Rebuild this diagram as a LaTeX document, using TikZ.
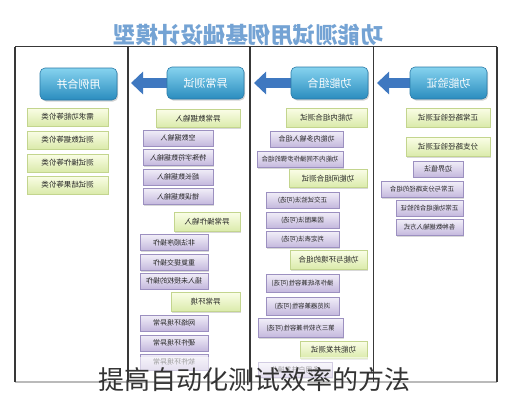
\documentclass[tikz,border=0pt]{standalone}
\usepackage{fontspec}
\usepackage{graphicx}
\newfontfamily\cjk{Noto Sans CJK SC}
\usetikzlibrary{arrows.meta,shadows}
\definecolor{hdrtop}{HTML}{86D3EF}
\definecolor{hdrbot}{HTML}{2A8CBE}
\definecolor{hdrline}{HTML}{2A7AA8}
\definecolor{gtop}{HTML}{FAFDE6}
\definecolor{gbot}{HTML}{DAEAAA}
\definecolor{gline}{HTML}{C3D58E}
\definecolor{ptop}{HTML}{F1EEF8}
\definecolor{pbot}{HTML}{C4B8DD}
\definecolor{pline}{HTML}{9C90C0}
\definecolor{arrowc}{HTML}{3F78C0}
\definecolor{titlec}{HTML}{74A3D4}
\newcommand{\mirtxt}[1]{\reflectbox{#1}}
\begin{document}
\begin{tikzpicture}[x=1pt,y=-1pt,
  hdr/.style={rounded corners=5pt, top color=hdrtop, bottom color=hdrbot, draw=hdrline, line width=0.6pt,
    minimum width=77pt, minimum height=32pt, inner sep=0pt, text=white,
    font=\cjk\fontsize{11}{12}\selectfont,
    drop shadow={shadow xshift=1.2pt,shadow yshift=-1.5pt,opacity=0.35}},
  gbox/.style={draw=gline, line width=0.5pt, top color=gtop, bottom color=gbot, inner sep=0pt,
    minimum height=18pt, font=\cjk\fontsize{7.5}{9}\selectfont, text=black!85,
    drop shadow={shadow xshift=1pt,shadow yshift=-1pt,opacity=0.3}},
  pbox/.style={gbox, draw=pline, top color=ptop, bottom color=pbot, minimum height=16pt,
    font=\cjk\fontsize{7}{8}\selectfont},
  smalltxt/.style={font=\cjk\fontsize{6.4}{7}\selectfont},
  framel/.style={draw=black!78, line width=1.5pt},
  barrow/.style={line width=10pt, draw=arrowc, -{Triangle[length=12pt,width=22pt]}},
]
\useasboundingbox (0,0) rectangle (508,400);
\fill[white] (0,0) rectangle (508,400);

% title
\node[font=\cjk\bfseries\fontsize{22.5}{24}\selectfont, text=titlec] (title) at (248,35) {\mirtxt{功能测试用例基础设计模型}};

% top frame line
\draw[framel] (15,46.7) -- (497,46.7);

% arrow tips
\coordinate (t2) at (131,83);
\coordinate (t3) at (254,83);
\coordinate (t4) at (377,83);

% header positions (for arrows drawn first)
\path (205.5,83) coordinate (h2c) (329.5,83) coordinate (h3c) (448.5,83) coordinate (h4c);
\coordinate (h2w) at (167,83);
\coordinate (h3w) at (291,83);
\coordinate (h4w) at (410,83);
\draw[barrow] (h2w) -- (t2);
\draw[barrow] (h3w) -- (t3);
\draw[barrow] (h4w) -- (t4);

% headers
\node[hdr] (h1) at (78.5,84) {\mirtxt{用例合并}};
\node[hdr] (h2) at (h2c) {\mirtxt{异常测试}};
\node[hdr] (h3) at (h3c) {\mirtxt{功能组合}};
\node[hdr] (h4) at (h4c) {\mirtxt{功能验证}};

% column 1
\node[gbox, minimum width=81pt] (c1a) at (67.5,117) {\mirtxt{需求功能等价类}};
\node[gbox, minimum width=81pt] (c1b) at (67.5,140) {\mirtxt{测试数据等价类}};
\node[gbox, minimum width=81pt] (c1c) at (67.5,163) {\mirtxt{测试操作等价类}};
\node[gbox, minimum width=81pt] (c1d) at (67.5,185) {\mirtxt{测试结果等价类}};

% column 2
\node[gbox, minimum width=84pt] (c2g1) at (198,118.5) {\mirtxt{异常数据输入}};
\node[pbox, minimum width=70pt] (c2p1) at (178,138) {\mirtxt{空数据输入}};
\node[pbox, minimum width=70pt] (c2p2) at (178,157.5) {\mirtxt{特殊字符数据输入}};
\node[pbox, minimum width=70pt] (c2p3) at (178,177) {\mirtxt{超长数据输入}};
\node[pbox, minimum width=70pt] (c2p4) at (178,196.5) {\mirtxt{错误数据输入}};
\node[gbox, minimum width=66pt, minimum height=19pt] (c2g2) at (207,222) {\mirtxt{异常操作输入}};
\node[pbox, minimum width=68pt] (c2p5) at (174,242.5) {\mirtxt{非法顺序操作}};
\node[pbox, minimum width=68pt] (c2p6) at (174,262.5) {\mirtxt{重复提交操作}};
\node[pbox, minimum width=68pt] (c2p7) at (174,281) {\mirtxt{插入未授权的操作}};
\node[gbox, minimum width=69pt, minimum height=19pt] (c2g3) at (205.5,302) {\mirtxt{异常环境}};
\node[pbox, minimum width=68pt] (c2p8) at (174,323) {\mirtxt{网络环境异常}};
\node[pbox, minimum width=68pt] (c2p9) at (174,343) {\mirtxt{硬件环境异常}};
\node[pbox, minimum width=68pt] (c2p10) at (174,362) {\mirtxt{软件环境异常}};

% column 3
\node[gbox, minimum width=81pt, minimum height=19pt] (c3g1) at (326.5,117.5) {\mirtxt{功能内组合测试}};
\node[pbox, minimum width=73pt] (c3p1) at (306.5,139) {\mirtxt{功能内多输入组合}};
\node[pbox, smalltxt, minimum width=86pt] (c3p2) at (300,159.5) {\mirtxt{功能内不同操作步骤的组合}};
\node[gbox, minimum width=78pt] (c3g2) at (328,178.5) {\mirtxt{功能间组合测试}};
\node[pbox, smalltxt, minimum width=73pt] (c3p3) at (302.5,200) {\mirtxt{正交试验法(可选)}};
\node[pbox, smalltxt, minimum width=73pt] (c3p4) at (302.5,220) {\mirtxt{因果图法(可选)}};
\node[pbox, smalltxt, minimum width=73pt] (c3p5) at (302.5,239.5) {\mirtxt{判定表法(可选)}};
\node[gbox, minimum width=77pt, minimum height=19pt] (c3g3) at (328.5,260) {\mirtxt{功能与环境的组合}};
\node[pbox, smalltxt, minimum width=73pt, minimum height=18pt] (c3p6) at (302.5,283) {\mirtxt{操作系统兼容性(可选)}};
\node[pbox, smalltxt, minimum width=73pt, minimum height=18pt] (c3p7) at (302.5,306) {\mirtxt{浏览器兼容性(可选)}};
\node[pbox, smalltxt, minimum width=85pt, minimum height=19pt] (c3p8) at (300.5,328) {\mirtxt{第三方软件兼容性(可选)}};
\node[gbox, minimum width=67pt, minimum height=17pt] (c3g4) at (333.5,350) {\mirtxt{功能并发测试}};
\node[pbox, minimum width=74pt, minimum height=15pt] (c3p9) at (295,370) {\mirtxt{多用户并发操作}};

% column 4
\node[gbox, minimum width=84pt, minimum height=19pt] (c4g1) at (448,117.5) {\mirtxt{正常路径验证测试}};
\node[gbox, minimum width=84pt, minimum height=19pt] (c4g2) at (448,147) {\mirtxt{分支路径验证测试}};
\node[pbox, minimum width=50pt] (c4p1) at (438,169) {\mirtxt{边界值法}};
\node[pbox, smalltxt, minimum width=82pt] (c4p2) at (422,189.5) {\mirtxt{正常与分支路径的组合}};
\node[pbox, smalltxt, minimum width=67pt] (c4p3) at (429.5,208) {\mirtxt{正常功能组合的验证}};
\node[pbox, smalltxt, minimum width=67pt] (c4p4) at (429.5,227.5) {\mirtxt{各种数据输入方式}};

% bottom frame line, fading band
\draw[draw=black!60, line width=1.2pt] (15,382) -- (497,382);
\fill[white, opacity=0.55] (0,357) rectangle (508,400);

% vertical frame lines
\draw[framel] (15,46.7) -- (15,382);
\draw[framel] (128,46.7) -- (128,382);
\draw[framel] (250,46.7) -- (250,382);
\draw[framel] (373.5,46.7) -- (373.5,382);
\draw[framel] (497,46.7) -- (497,382);

% caption
\node[font=\cjk\fontsize{26}{28}\selectfont, text=black!80] (cap) at (254,380) {提高自动化测试效率的方法};
\end{tikzpicture}
\end{document}
